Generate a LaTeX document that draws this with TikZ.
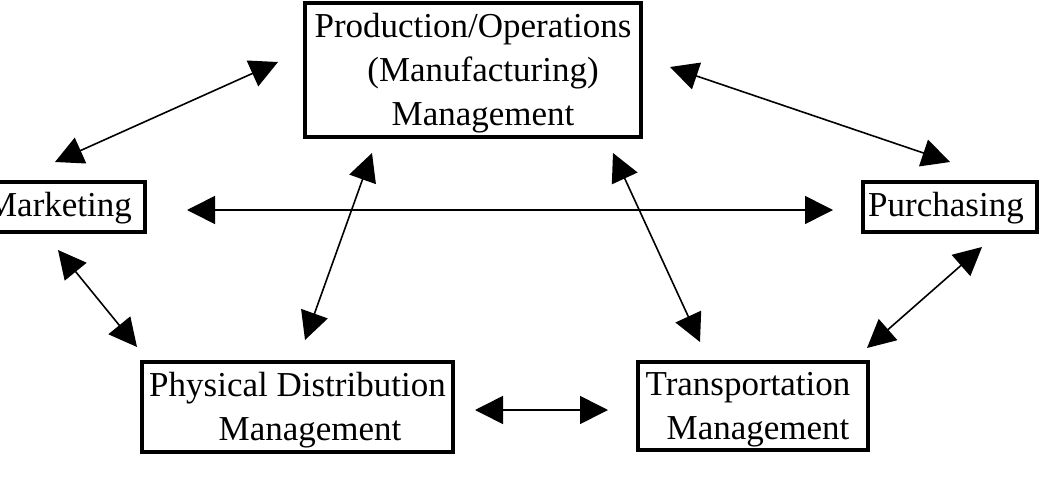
\documentclass[tikz,border=0pt]{standalone}
\usepackage{fontspec}
\setmainfont{Liberation Serif}
\usetikzlibrary{arrows.meta}
\begin{document}
\begin{tikzpicture}[x=1pt,y=-1pt,
  box/.style={draw,line width=3.5pt,inner sep=0pt},
  txt/.style={inner sep=0pt,align=center,font=\fontsize{35}{44}\selectfont},
  link/.style={line width=1.6pt,{Triangle[length=28pt,width=28pt]}-{Triangle[length=28pt,width=28pt]}}]
\useasboundingbox (0,0) rectangle (1044,479);
\node[box,minimum width=336pt,minimum height=134pt] (prod) at (473,70) {};
\node[box,minimum width=163pt,minimum height=50pt] (mkt) at (63.5,207) {};
\node[box,minimum width=174pt,minimum height=50pt] (pur) at (950,207) {};
\node[box,minimum width=311pt,minimum height=90pt] (pdm) at (297.5,407) {};
\node[box,minimum width=230pt,minimum height=88pt] (tm) at (753,406) {};
\node[txt] (prodt) at ([yshift=-3pt]prod.center)
  {Production/Operations\\\hspace*{20pt}(Manufacturing)\\\hspace*{20pt}Management};
\node[txt] (mktt) at ([yshift=-1pt]mkt.center) {Marketing\hspace*{9pt}};
\node[txt] (purt) at ([yshift=-1pt]pur.center) {Purchasing\hspace*{8pt}};
\node[txt] (pdmt) at ([yshift=-3pt]pdm.center) {Physical Distribution\\\hspace*{25pt}Management};
\node[txt] (tmt) at ([yshift=-4pt]tm.center) {Transportation\hspace*{10pt}\\\hspace*{10pt}Management};
% arrow end points
\coordinate (a1s) at (55,162);  \coordinate (a1e) at (278,62);
\coordinate (a2s) at (670,67);  \coordinate (a2e) at (950,162);
\coordinate (a3s) at (187,210); \coordinate (a3e) at (833,210);
\coordinate (a4s) at (372,153); \coordinate (a4e) at (305,340);
\coordinate (a5s) at (613,153); \coordinate (a5e) at (700,342);
\coordinate (a6s) at (58,250);  \coordinate (a6e) at (137,347);
\coordinate (a7s) at (982,247); \coordinate (a7e) at (867,348);
\coordinate (a8s) at (475,410); \coordinate (a8e) at (608,410);
\draw[link] (a1s) -- (a1e);
\draw[link] (a2s) -- (a2e);
\draw[link] (a3s) -- (a3e);
\draw[link] (a4s) -- (a4e);
\draw[link] (a5s) -- (a5e);
\draw[link] (a6s) -- (a6e);
\draw[link] (a7s) -- (a7e);
\draw[link] (a8s) -- (a8e);
\end{tikzpicture}
\end{document}
